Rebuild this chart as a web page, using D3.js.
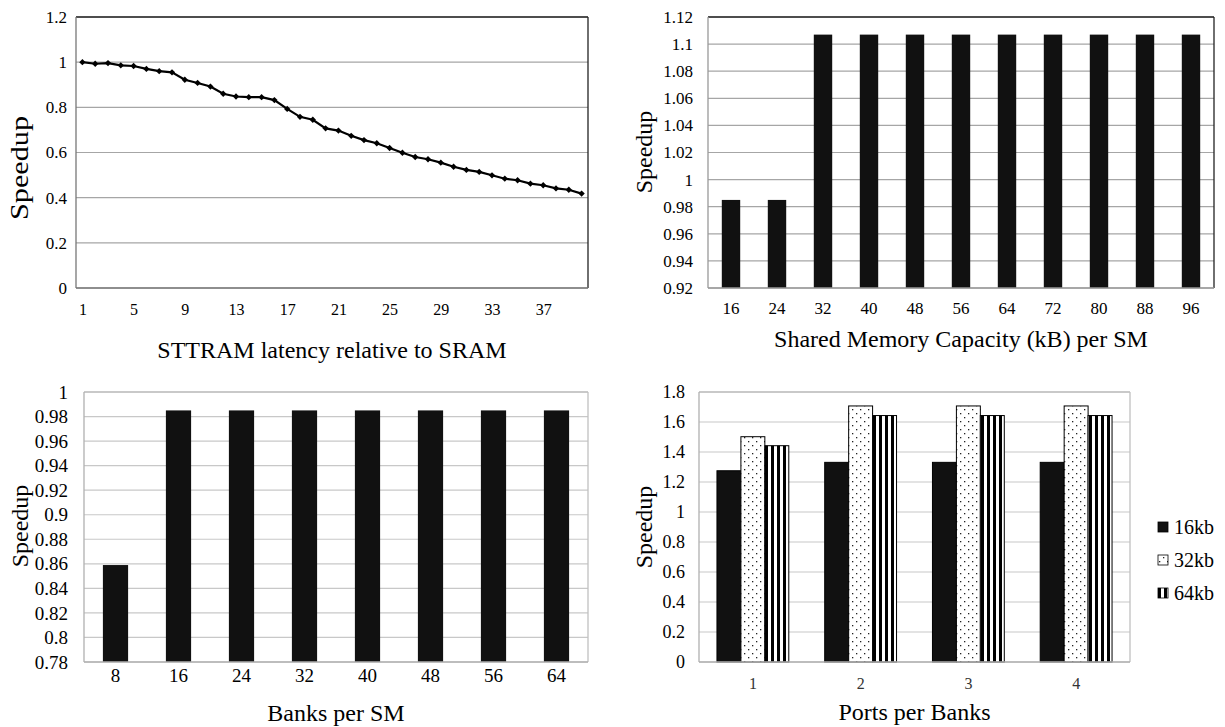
<!DOCTYPE html>
<html>
<head>
<meta charset="utf-8">
<script src="https://cdn.jsdelivr.net/npm/d3@7"></script>
<style>
  body { margin: 0; background: #fff; }
</style>
</head>
<body>
<svg id="chart" width="1225" height="727" font-family="'Liberation Serif', Tinos, 'DejaVu Serif', serif"></svg>
<script>
// latency sweep (top left)
var latencyCats = [1,2,3,4,5,6,7,8,9,10,11,12,13,14,15,16,17,18,19,20,
                   21,22,23,24,25,26,27,28,29,30,31,32,33,34,35,36,37,38,39,40];
var latencySpeedup = [1.0,0.993,0.996,0.986,0.983,0.97,0.96,0.955,0.922,0.908,
                      0.892,0.86,0.848,0.845,0.845,0.832,0.793,0.758,0.745,0.707,
                      0.697,0.674,0.655,0.641,0.62,0.599,0.58,0.57,0.555,0.537,
                      0.523,0.514,0.499,0.484,0.477,0.462,0.455,0.441,0.435,0.418];
var latencyTickLabels = [1,5,9,13,17,21,25,29,33,37];
var latencyYTicks = [0,0.2,0.4,0.6,0.8,1,1.2];

// shared memory capacity (top right)
var capacityCats = ['16','24','32','40','48','56','64','72','80','88','96'];
var capacitySpeedup = [0.985,0.985,1.107,1.107,1.107,1.107,1.107,1.107,1.107,1.107,1.107];
var capacityYTicks = [0.92,0.94,0.96,0.98,1,1.02,1.04,1.06,1.08,1.1,1.12];

// banks per SM (bottom left)
var bankCats = ['8','16','24','32','40','48','56','64'];
var bankSpeedup = [0.859,0.985,0.985,0.985,0.985,0.985,0.985,0.985];
var bankYTicks = [0.78,0.8,0.82,0.84,0.86,0.88,0.9,0.92,0.94,0.96,0.98,1];

// ports per bank (bottom right)
var portCats = ['1','2','3','4'];
var portSeries = ['16kb','32kb','64kb'];
var port16 = [1.275,1.331,1.331,1.331];
var port32 = [1.502,1.707,1.707,1.707];
var port64 = [1.442,1.643,1.643,1.643];
var portYTicks = [0,0.2,0.4,0.6,0.8,1,1.2,1.4,1.6,1.8];

var FONT = "'Liberation Serif', Tinos, 'DejaVu Serif', serif";

var svg = d3.select('#chart');
var defs = svg.append('defs');

var dots = defs.append('pattern').attr('id', 'dots')
  .attr('patternUnits', 'userSpaceOnUse').attr('width', 8).attr('height', 8);
dots.append('rect').attr('width', 8).attr('height', 8).attr('fill', '#fff');
dots.append('rect').attr('x', 1).attr('y', 1).attr('width', 1.3).attr('height', 1.3).attr('fill', '#222');
dots.append('rect').attr('x', 5).attr('y', 5).attr('width', 1.3).attr('height', 1.3).attr('fill', '#222');

var stripes = defs.append('pattern').attr('id', 'stripes')
  .attr('patternUnits', 'userSpaceOnUse').attr('width', 6).attr('height', 6);
stripes.append('rect').attr('width', 6).attr('height', 6).attr('fill', '#fff');
stripes.append('rect').attr('width', 3).attr('height', 6).attr('fill', '#000');

var seriesFill = { '16kb': '#111', '32kb': 'url(#dots)', '64kb': 'url(#stripes)' };

function panel(box, domain, ticks, opt) {
  var w = box.x1 - box.x0, h = box.y1 - box.y0;
  var g = svg.append('g').attr('transform', 'translate(' + box.x0 + ',' + box.y0 + ')');
  var y = d3.scaleLinear().domain(domain).range([h, 0]);

  g.selectAll('.grid').data(ticks).enter().append('line')
    .attr('x1', 0).attr('x2', w)
    .attr('y1', function(d) { return y(d); })
    .attr('y2', function(d) { return y(d); })
    .attr('stroke', opt.grid).attr('stroke-width', 1.2);

  var ax = g.append('g')
    .call(d3.axisLeft(y).tickValues(ticks).tickSize(0).tickPadding(opt.pad).tickFormat(String));
  ax.select('.domain').remove();
  ax.attr('font-family', FONT).attr('font-size', opt.ySize);
  ax.selectAll('text').attr('fill', '#000');

  // frame
  g.append('line').attr('x1', 0).attr('x2', w).attr('y1', 0).attr('y2', 0)
    .attr('stroke', opt.edge).attr('stroke-width', 1.3);
  g.append('line').attr('x1', w).attr('x2', w).attr('y1', 0).attr('y2', h)
    .attr('stroke', opt.edge).attr('stroke-width', 1.3);

  var yt = g.append('text')
    .attr('transform', 'translate(' + (opt.ytx - box.x0) + ',' + (opt.yty - box.y0) + ') rotate(-90)')
    .attr('text-anchor', 'middle').attr('dy', '0.35em')
    .attr('font-family', FONT).attr('font-size', opt.ytSize || 24).text('Speedup');
  if (opt.ytLen) yt.attr('textLength', opt.ytLen).attr('lengthAdjust', 'spacingAndGlyphs');

  g.append('text')
    .attr('x', w / 2).attr('y', opt.xty - box.y0)
    .attr('text-anchor', 'middle').attr('dy', '0.35em')
    .attr('font-family', FONT).attr('font-size', 24).text(opt.title);

  return { g: g, y: y, w: w, h: h, opt: opt };
}

function axisLines(p) {
  p.g.append('line').attr('x1', 0).attr('x2', 0).attr('y1', 0).attr('y2', p.h)
    .attr('stroke', p.opt.axis).attr('stroke-width', 1.3);
  p.g.append('line').attr('x1', 0).attr('x2', p.w).attr('y1', p.h).attr('y2', p.h)
    .attr('stroke', p.opt.axis).attr('stroke-width', 1.3);
}

function xLabels(p, x, labels, yPos) {
  var ax = p.g.append('g').attr('transform', 'translate(0,' + (yPos - p.opt.box.y0) + ')')
    .call(d3.axisBottom(x).tickValues(labels).tickSize(0).tickPadding(0));
  ax.select('.domain').remove();
  ax.attr('font-family', FONT).attr('font-size', p.opt.xSize);
  ax.selectAll('text').attr('dy', '0.35em').attr('fill', p.opt.xColor || '#000');
}

// ---------- top left: line ----------
var boxA = { x0: 76, y0: 17, x1: 588, y1: 288 };
var pA = panel(boxA, [0, 1.2], latencyYTicks,
  { grid: '#a6a6a6', edge: '#222', axis: '#777', pad: 9, ySize: 17, xSize: 16,
    ytx: 19, yty: 168, ytSize: 26, ytLen: 104, xty: 350,
    title: 'STTRAM latency relative to SRAM', box: boxA });
var xA = d3.scalePoint().domain(latencyCats).range([0, pA.w]).padding(0.5);
var lineA = d3.line()
  .x(function(d, i) { return xA(latencyCats[i]); })
  .y(function(d) { return pA.y(d); });
pA.g.append('path').datum(latencySpeedup).attr('d', lineA)
  .attr('fill', 'none').attr('stroke', '#000').attr('stroke-width', 2.2);
pA.g.selectAll('.mark').data(latencySpeedup).enter().append('path')
  .attr('d', d3.symbol(d3.symbolSquare, 20))
  .attr('transform', function(d, i) {
    return 'translate(' + xA(latencyCats[i]) + ',' + pA.y(d) + ') rotate(45)';
  })
  .attr('fill', '#000');
axisLines(pA);
xLabels(pA, xA, latencyTickLabels, 309);

// ---------- top right: capacity bars ----------
var boxB = { x0: 708, y0: 17, x1: 1214, y1: 288 };
var pB = panel(boxB, [0.92, 1.12], capacityYTicks,
  { grid: '#a6a6a6', edge: '#222', axis: '#999', pad: 15, ySize: 17, xSize: 17,
    ytx: 644, yty: 152, xty: 339,
    title: 'Shared Memory Capacity (kB) per SM', box: boxB });
var xB = d3.scaleBand().domain(capacityCats).range([0, pB.w]).paddingInner(0.6).paddingOuter(0.3);
pB.g.selectAll('.bar').data(capacitySpeedup).enter().append('rect')
  .attr('x', function(d, i) { return xB(capacityCats[i]); })
  .attr('width', xB.bandwidth())
  .attr('y', function(d) { return pB.y(d); })
  .attr('height', function(d) { return pB.h - pB.y(d); })
  .attr('fill', '#111');
axisLines(pB);
xLabels(pB, xB, capacityCats, 308);

// ---------- bottom left: bank bars ----------
var boxC = { x0: 84, y0: 392, x1: 588, y1: 662 };
var pC = panel(boxC, [0.78, 1.0], bankYTicks,
  { grid: '#c8c8c8', edge: '#c0c0c0', axis: '#b0b0b0', pad: 16, ySize: 19, xSize: 19,
    ytx: 20, yty: 526, xty: 713,
    title: 'Banks per SM', box: boxC });
var xC = d3.scaleBand().domain(bankCats).range([0, pC.w]).paddingInner(0.6).paddingOuter(0.3);
pC.g.selectAll('.bar').data(bankSpeedup).enter().append('rect')
  .attr('x', function(d, i) { return xC(bankCats[i]); })
  .attr('width', xC.bandwidth())
  .attr('y', function(d) { return pC.y(d); })
  .attr('height', function(d) { return pC.h - pC.y(d); })
  .attr('fill', '#111');
axisLines(pC);
xLabels(pC, xC, bankCats, 675);

// ---------- bottom right: grouped bars ----------
var boxD = { x0: 699, y0: 392, x1: 1130, y1: 662 };
var pD = panel(boxD, [0, 1.8], portYTicks,
  { grid: '#c8c8c8', edge: '#c0c0c0', axis: '#b0b0b0', pad: 14, ySize: 18, xSize: 16,
    xColor: '#333', ytx: 644, yty: 527, xty: 712,
    title: 'Ports per Banks', box: boxD });
var x0D = d3.scaleBand().domain(portCats).range([0, pD.w]).paddingInner(1 / 3).paddingOuter(1 / 6);
var x1D = d3.scaleBand().domain(portSeries).range([0, x0D.bandwidth()]);
var portValues = { '16kb': port16, '32kb': port32, '64kb': port64 };
portSeries.forEach(function(s) {
  pD.g.selectAll('.bar-' + s).data(portValues[s]).enter().append('rect')
    .attr('x', function(d, i) { return x0D(portCats[i]) + x1D(s); })
    .attr('width', x1D.bandwidth())
    .attr('y', function(d) { return pD.y(d); })
    .attr('height', function(d) { return pD.h - pD.y(d); })
    .attr('fill', seriesFill[s])
    .attr('stroke', '#000').attr('stroke-width', 1);
});
axisLines(pD);
xLabels(pD, x0D, portCats, 683);

// legend
var legend = svg.append('g').attr('transform', 'translate(1158,527)');
portSeries.forEach(function(s, i) {
  var row = legend.append('g').attr('transform', 'translate(0,' + (i * 33) + ')');
  row.append('rect').attr('x', 0).attr('y', -5).attr('width', 10).attr('height', 10)
    .attr('fill', seriesFill[s]).attr('stroke', '#000').attr('stroke-width', 0.8);
  row.append('text').attr('x', 16).attr('dy', '0.35em')
    .attr('font-family', FONT).attr('font-size', 20).text(s);
});
</script>
</body>
</html>
